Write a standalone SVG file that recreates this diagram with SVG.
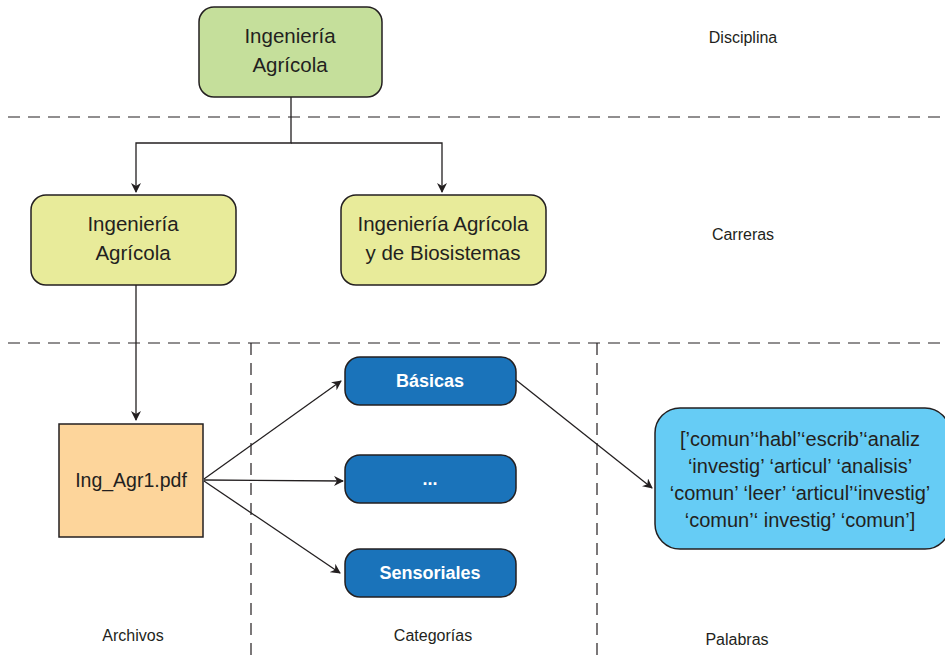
<svg xmlns="http://www.w3.org/2000/svg" width="945" height="661" viewBox="0 0 945 661">
<defs>
<marker id="ah" viewBox="0 0 10 10" refX="9" refY="5" markerWidth="10" markerHeight="10" markerUnits="userSpaceOnUse" orient="auto">
<path d="M0,0 L10,5 L0,10 L3,5 Z" fill="#231f20"/>
</marker>
<style>
.t{font-family:"Liberation Sans",Arial,sans-serif;fill:#231f20;text-anchor:middle}
.n{font-size:20.5px}
.lab{font-size:16px}
.w{font-family:"Liberation Sans",Arial,sans-serif;fill:#fff;font-weight:bold;font-size:18px;text-anchor:middle}
.box{stroke:#231f20;stroke-width:1.5}
.dash{stroke:#231f20;stroke-width:1.2;stroke-dasharray:12 8;fill:none}
.ln{stroke:#231f20;stroke-width:1.3;fill:none}
</style>
</defs>
<rect width="945" height="661" fill="#fff"/>
<g id="dividers">
<line class="dash" x1="8" y1="117" x2="945" y2="117"/>
<line class="dash" x1="8" y1="343" x2="945" y2="343"/>
<line class="dash" x1="251" y1="343" x2="251" y2="661"/>
<line class="dash" x1="597" y1="343" x2="597" y2="661"/>
</g>
<g id="connectors">
<polyline class="ln" points="291,97 291,143 136,143 136,192" marker-end="url(#ah)"/>
<polyline class="ln" points="291,143 442,143 442,192" marker-end="url(#ah)"/>
<line class="ln" x1="136" y1="285" x2="136" y2="420" marker-end="url(#ah)"/>
<line class="ln" x1="204" y1="479" x2="341" y2="381" marker-end="url(#ah)"/>
<line class="ln" x1="204" y1="480" x2="343" y2="481" marker-end="url(#ah)"/>
<line class="ln" x1="204" y1="481" x2="340" y2="573" marker-end="url(#ah)"/>
<line class="ln" x1="516" y1="380" x2="652" y2="488" marker-end="url(#ah)"/>
</g>
<g id="disciplina">
<rect class="box" x="199" y="7" width="183" height="90" rx="15" fill="#c5df9b"/>
<text class="t n" x="290" y="43">Ingeniería</text>
<text class="t n" x="290" y="72">Agrícola</text>
</g>
<g id="carrera1">
<rect class="box" x="31" y="195" width="205" height="90" rx="15" fill="#e8eb9a"/>
<text class="t n" x="133" y="231">Ingeniería</text>
<text class="t n" x="133" y="260">Agrícola</text>
</g>
<g id="carrera2">
<rect class="box" x="341" y="195" width="205" height="90" rx="15" fill="#e8eb9a"/>
<text class="t n" x="443" y="231">Ingeniería Agrícola</text>
<text class="t n" x="443" y="260">y de Biosistemas</text>
</g>
<g id="archivo">
<rect class="box" x="59" y="424" width="144" height="113" fill="#fdd59b"/>
<text class="t" font-size="19.5" x="131" y="487">Ing_Agr1.pdf</text>
</g>
<g id="basicas">
<rect class="box" x="345" y="357" width="171" height="48" rx="15" fill="#1a73ba"/>
<text class="w" x="430" y="387">Básicas</text>
</g>
<g id="etc">
<rect class="box" x="345" y="455" width="171" height="48" rx="15" fill="#1a73ba"/>
<text class="w" x="430" y="485">...</text>
</g>
<g id="sensoriales">
<rect class="box" x="345" y="549" width="171" height="48" rx="15" fill="#1a73ba"/>
<text class="w" x="430" y="579">Sensoriales</text>
</g>
<g id="palabras">
<rect class="box" x="655" y="408" width="295" height="141" rx="25" fill="#66ccf5"/>
<text class="t" font-size="20" x="800" y="446">[’comun’‘habl’‘escrib’‘analiz</text>
<text class="t" font-size="20" x="800" y="473">‘investig’ ‘articul’ ‘analisis’</text>
<text class="t" font-size="20" x="800" y="500">‘comun’ ‘leer’ ‘articul’‘investig’</text>
<text class="t" font-size="20" x="800" y="527">‘comun’‘ investig’ ‘comun’]</text>
</g>
<g id="labels">
<text class="t lab" x="743" y="43">Disciplina</text>
<text class="t lab" x="743" y="240">Carreras</text>
<text class="t lab" x="133" y="641">Archivos</text>
<text class="t lab" x="433" y="641">Categorías</text>
<text class="t lab" x="737" y="645">Palabras</text>
</g>
</svg>
